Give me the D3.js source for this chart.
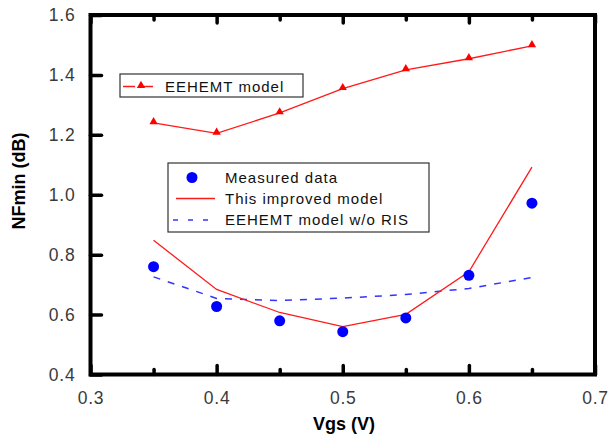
<!DOCTYPE html>
<html>
<head>
<meta charset="utf-8">
<script src="https://cdn.jsdelivr.net/npm/d3@7"></script>
<style>
  body { margin: 0; background: #fff; }
  text { font-family: "Liberation Sans", Arial, sans-serif; }
  .tick-lbl text { font-size: 17.5px; fill: #3a3a3a; letter-spacing: 0.8px; }
  .legend text { font-size: 15px; fill: #111; letter-spacing: 1px; }
</style>
</head>
<body>
<div id="chart"></div>
<script>
// Data
var vgs = [0.35, 0.40, 0.45, 0.50, 0.55, 0.60, 0.65];
var measured = [0.760, 0.627, 0.579, 0.543, 0.589, 0.731, 0.972];
var improvedModel = [0.848, 0.684, 0.607, 0.560, 0.601, 0.743, 1.092];
var eehemtModel = [1.240, 1.205, 1.273, 1.354, 1.417, 1.454, 1.497];
var eehemtNoRis = [0.726, 0.654, 0.647, 0.655, 0.667, 0.687, 0.724];
var xTicks = [0.3, 0.4, 0.5, 0.6, 0.7];
var xMinorTicks = [0.35, 0.45, 0.55, 0.65];
var yTicks = [0.4, 0.6, 0.8, 1.0, 1.2, 1.4, 1.6];

var W = 608, H = 438;
var svg = d3.select('#chart').append('svg')
  .attr('width', W).attr('height', H);

var x = d3.scaleLinear().domain([0.3, 0.7]).range([90.5, 595]);
var y = d3.scaleLinear().domain([0.4, 1.6]).range([374.5, 15]);

var fmt = d3.format('.1f');

// axes: labels + inward ticks
function styleTicks(g) {
  g.select('.domain').remove();
  g.selectAll('line').attr('stroke', '#000').attr('stroke-width', 3.5).attr('stroke-linecap', 'round');
}

svg.append('g').attr('class', 'tick-lbl')
  .attr('transform', 'translate(0,' + y.range()[0] + ')')
  .call(d3.axisBottom(x).tickValues(xTicks).tickFormat(fmt).tickSizeInner(-9).tickSizeOuter(0).tickPadding(17))
  .call(styleTicks);

svg.append('g')
  .attr('transform', 'translate(0,' + y.range()[0] + ')')
  .call(d3.axisBottom(x).tickValues(xMinorTicks).tickFormat('').tickSizeInner(-5).tickSizeOuter(0))
  .call(styleTicks);

svg.append('g')
  .attr('transform', 'translate(0,' + y.range()[1] + ')')
  .call(d3.axisTop(x).tickValues(xTicks).tickFormat('').tickSizeInner(-8).tickSizeOuter(0))
  .call(styleTicks);

svg.append('g')
  .attr('transform', 'translate(0,' + y.range()[1] + ')')
  .call(d3.axisTop(x).tickValues(xMinorTicks).tickFormat('').tickSizeInner(-5).tickSizeOuter(0))
  .call(styleTicks);

svg.append('g').attr('class', 'tick-lbl')
  .attr('transform', 'translate(' + x.range()[0] + ',0)')
  .call(d3.axisLeft(y).tickValues(yTicks).tickFormat(fmt).tickSizeInner(-11).tickSizeOuter(0).tickPadding(15))
  .call(styleTicks);

// frame
svg.append('rect')
  .attr('x', x.range()[0]).attr('y', y.range()[1])
  .attr('width', x.range()[1] - x.range()[0])
  .attr('height', y.range()[0] - y.range()[1])
  .attr('fill', 'none').attr('stroke', '#000').attr('stroke-width', 4);

// axis titles
svg.append('text')
  .attr('x', 344).attr('y', 430)
  .attr('text-anchor', 'middle')
  .style('font-size', '18px').style('font-weight', 'bold')
  .text('Vgs (V)');

svg.append('text')
  .attr('transform', 'translate(25,181) rotate(-90)')
  .attr('text-anchor', 'middle')
  .style('font-size', '18px').style('font-weight', 'bold')
  .text('NFmin (dB)');

function series(vals) {
  return vgs.map(function(v, i) { return {x: v, y: vals[i]}; });
}

var line = d3.line()
  .x(function(d) { return x(d.x); })
  .y(function(d) { return y(d.y); });

var tri = d3.symbol().type(d3.symbolTriangle).size(30);

// EEHEMT model
svg.append('path')
  .attr('d', line(series(eehemtModel)))
  .attr('fill', 'none').attr('stroke', '#ff1a1a').attr('stroke-width', 1.3);

svg.selectAll('.tri')
  .data(series(eehemtModel))
  .enter().append('path')
  .attr('class', 'tri')
  .attr('transform', function(d) { return 'translate(' + x(d.x) + ',' + (y(d.y) - 1) + ')'; })
  .attr('d', tri)
  .attr('fill', '#ff0000');

// EEHEMT w/o RIS
svg.append('path')
  .attr('d', line(series(eehemtNoRis)))
  .attr('fill', 'none').attr('stroke', '#3333ff').attr('stroke-width', 1.5)
  .attr('stroke-dasharray', '7,8');

// improved model
svg.append('path')
  .attr('d', line(series(improvedModel)))
  .attr('fill', 'none').attr('stroke', '#ff1a1a').attr('stroke-width', 1.3);

// measured
svg.selectAll('.dot')
  .data(series(measured))
  .enter().append('circle')
  .attr('class', 'dot')
  .attr('cx', function(d) { return x(d.x); })
  .attr('cy', function(d) { return y(d.y); })
  .attr('r', 5.5)
  .attr('fill', '#0000ff');

// legend 1
var lg1 = svg.append('g').attr('class', 'legend');
lg1.append('rect')
  .attr('x', 120).attr('y', 74).attr('width', 183).attr('height', 23)
  .attr('fill', '#fff').attr('stroke', '#333').attr('stroke-width', 1.2);
lg1.append('line')
  .attr('x1', 123).attr('x2', 159).attr('y1', 86.5).attr('y2', 86.5)
  .attr('stroke', '#ff1a1a').attr('stroke-width', 1.3).attr('stroke-dasharray', '12,6');
lg1.append('path')
  .attr('transform', 'translate(141,85.5)')
  .attr('d', tri).attr('fill', '#ff0000');
lg1.append('text').attr('x', 165).attr('y', 91.5).text('EEHEMT model');

// legend 2
var lg2 = svg.append('g').attr('class', 'legend');
lg2.append('rect')
  .attr('x', 168).attr('y', 163).attr('width', 261).attr('height', 69)
  .attr('fill', '#fff').attr('stroke', '#333').attr('stroke-width', 1.2);
lg2.append('circle')
  .attr('cx', 192).attr('cy', 177.5).attr('r', 5.5).attr('fill', '#0000ff');
lg2.append('line')
  .attr('x1', 176).attr('x2', 215).attr('y1', 198.5).attr('y2', 198.5)
  .attr('stroke', '#ff1a1a').attr('stroke-width', 1.3);
lg2.append('line')
  .attr('x1', 173).attr('x2', 211).attr('y1', 220).attr('y2', 220)
  .attr('stroke', '#3333ff').attr('stroke-width', 1.5).attr('stroke-dasharray', '5,10');
lg2.append('text').attr('x', 225).attr('y', 182.5).text('Measured data');
lg2.append('text').attr('x', 225).attr('y', 203.5).text('This improved model');
lg2.append('text').attr('x', 225).attr('y', 224.5).text('EEHEMT model w/o RIS');
</script>
</body>
</html>
